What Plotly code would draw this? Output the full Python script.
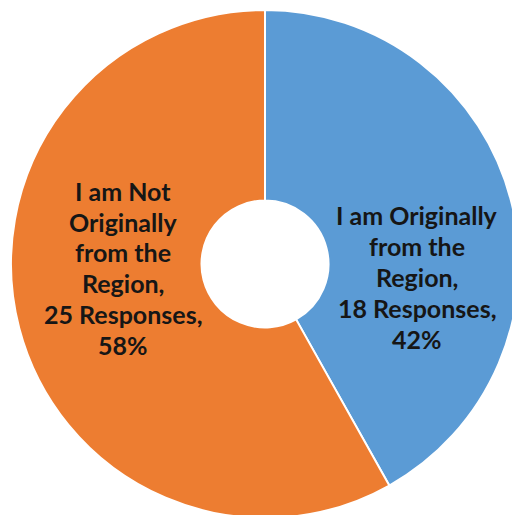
import plotly.graph_objects as go

# Survey answers
categories = ["I am Originally from the Region", "I am Not Originally from the Region"]
responses = [18, 25]
colors = ["#5B9BD5", "#ED7D31"]
# Wrapped category names used in the slice labels
label_lines = [
    ["I am Originally", "from the", "Region,"],
    ["I am Not", "Originally", "from the", "Region,"],
]

W, H = 530, 530
total = sum(responses)

fig = go.Figure(go.Pie(
    labels=categories,
    values=responses,
    hole=0.25,
    sort=False,
    direction="clockwise",
    rotation=0,
    marker=dict(colors=colors, line=dict(color="white", width=2)),
    textinfo="none",
    hoverinfo="label+value+percent",
    showlegend=False,
    domain=dict(x=[11 / W, 519 / W], y=[1 - 518 / H, 1 - 10 / H]),
))

# Label blocks: centre x and first-line baseline (px), line step (px)
label_layout = [
    dict(cx=417, y0=223, step=31.0),
    dict(cx=123, y0=199, step=30.8),
]

FS = 25
annotations = []
for lines, n, lay in zip(label_lines, responses, label_layout):
    pct = round(100 * n / total)
    full = lines + [f"{n} Responses,", f"{pct}%"]
    for i, txt in enumerate(full):
        baseline = lay["y0"] + i * lay["step"]
        annotations.append(dict(
            text=txt, x=lay["cx"] / W, y=1 - (baseline - 0.33 * FS) / H,
            xref="paper", yref="paper", xanchor="center", yanchor="middle",
            showarrow=False,
            font=dict(family="Lato", size=FS, color="#161616", weight="bold"),
        ))

fig.update_layout(
    width=W, height=H,
    margin=dict(l=0, r=0, t=0, b=0),
    paper_bgcolor="white",
    plot_bgcolor="white",
    annotations=annotations,
)

fig.write_html(
    "out.html",
    post_script="document.body.style.margin='0';document.body.style.overflow='hidden';",
)
